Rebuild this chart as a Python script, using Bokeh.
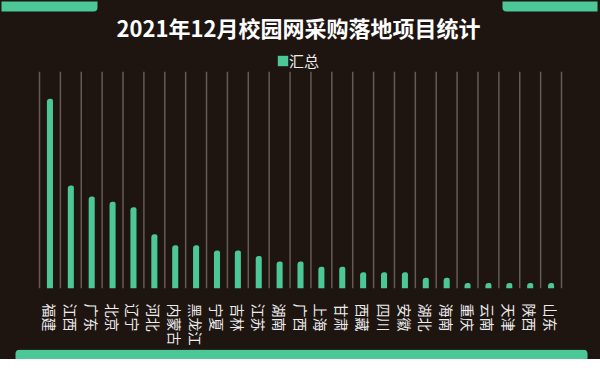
from bokeh.plotting import figure
from bokeh.layouts import column
from bokeh.models import (ColumnDataSource, FixedTicker, Range1d, Legend,
                          LegendItem, Label, BoxAnnotation)
from bokeh.embed import file_html
from bokeh.resources import INLINE

# ---- data ----
provinces = ["福建", "江西", "广东", "北京", "辽宁", "河北", "内蒙古", "黑龙江",
             "宁夏", "吉林", "江苏", "湖南", "广西", "上海", "甘肃", "西藏",
             "四川", "安徽", "湖北", "海南", "重庆", "云南", "天津", "陕西", "山东"]
counts = [35, 19, 17, 16, 15, 10, 8, 8, 7, 7, 6, 5, 5, 4, 4, 3, 3, 3, 2, 2,
          1, 1, 1, 1, 1]
title_text = "2021年12月校园网采购落地项目统计"
series_name = "汇总"
y_max = 40

# ---- style / layout (pixels) ----
BG = "#1e1511"
GREEN = "#4cc797"
GRID = "#645a56"
TXT = "#ececec"
FONT = "Noto Sans CJK SC"
W = 600
H_MAIN = 348
H_FOOT = 11
PLOT_LEFT, PLOT_RIGHT = 39, 561
PLOT_TOP, BASE = 72, 291

n = len(provinces)
xs = [i + 0.5 for i in range(n)]
bounds = list(range(n + 1))
src = ColumnDataSource(dict(x=xs, top=counts, name=provinces))

px_cat = (PLOT_RIGHT - PLOT_LEFT) / n
px_unit = (BASE - PLOT_TOP) / y_max

p = figure(width=W, height=H_MAIN, output_backend="svg", toolbar_location=None,
           x_range=Range1d(-PLOT_LEFT / px_cat, (W - PLOT_LEFT) / px_cat),
           y_range=Range1d(0, BASE / px_unit), y_axis_location=None,
           min_border_left=0, min_border_right=0,
           min_border_top=0, min_border_bottom=H_MAIN - BASE)
p.styles = {"background-color": BG}
p.extra_x_ranges = {"px": Range1d(0, W)}
p.extra_y_ranges = {"px": Range1d(0, BASE)}
p.background_fill_color = BG
p.border_fill_color = BG
p.outline_line_color = None
p.grid.visible = False

# vertical separators between categories
p.segment(x0=bounds, x1=bounds, y0=0, y1=y_max, line_color=GRID, line_width=1.5)

r = p.vbar(x="x", top="top", bottom=0, width=0.29, source=src,
           fill_color=GREEN, line_color=None, border_radius=(3, 2, 0, 0))

ax = p.xaxis[0]
ax.ticker = FixedTicker(ticks=xs)
ax.major_label_overrides = {x: name for x, name in zip(xs, provinces)}
ax.major_label_orientation = "vertical"
ax.axis_line_color = None
ax.major_tick_line_color = None
ax.minor_tick_line_color = None
ax.major_label_text_color = TXT
ax.major_label_text_font = FONT
ax.major_label_text_font_size = "14px"
ax.major_label_standoff = 9

legend = Legend(items=[LegendItem(label=series_name, renderers=[r])],
                location=(276, BASE - 74), orientation="horizontal",
                glyph_width=13, glyph_height=13, label_standoff=0,
                padding=0, margin=0, spacing=0,
                background_fill_alpha=0, border_line_color=None,
                label_text_color=TXT, label_text_font=FONT,
                label_text_font_size="15px", label_height=14)
p.add_layout(legend)

p.add_layout(Label(x=298, y=BASE - 27, x_range_name="px", y_range_name="px",
                   text=title_text, text_align="center", text_baseline="middle",
                   text_color="white", text_font=FONT, text_font_size="22px",
                   text_font_style="bold"))

# decorative corner bands (top)
for l, rr, rad in [(1, 97, (0, 0, 4, 0)), (502, 597, (0, 0, 0, 4))]:
    p.add_layout(BoxAnnotation(left=l, right=rr, top=BASE - 1, bottom=BASE - 11,
                               x_range_name="px", y_range_name="px",
                               fill_color=GREEN, fill_alpha=1, line_color=None,
                               border_radius=rad))

# footer band
f = figure(width=W, height=H_FOOT, output_backend="svg", toolbar_location=None,
           x_range=Range1d(0, W), y_range=Range1d(0, H_FOOT),
           x_axis_location=None, y_axis_location=None,
           min_border_left=0, min_border_right=0,
           min_border_top=0, min_border_bottom=0)
f.styles = {"background-color": BG}
f.background_fill_color = BG
f.border_fill_color = BG
f.outline_line_color = None
f.grid.visible = False
f.add_layout(BoxAnnotation(left=15, right=587, bottom=0, top=H_FOOT - 0.3,
                           fill_color=GREEN, fill_alpha=1, line_color=None,
                           border_radius=(4, 4, 0, 0)))

layout = column(p, f, spacing=0)
open("out.html", "w").write(file_html(layout, INLINE))
